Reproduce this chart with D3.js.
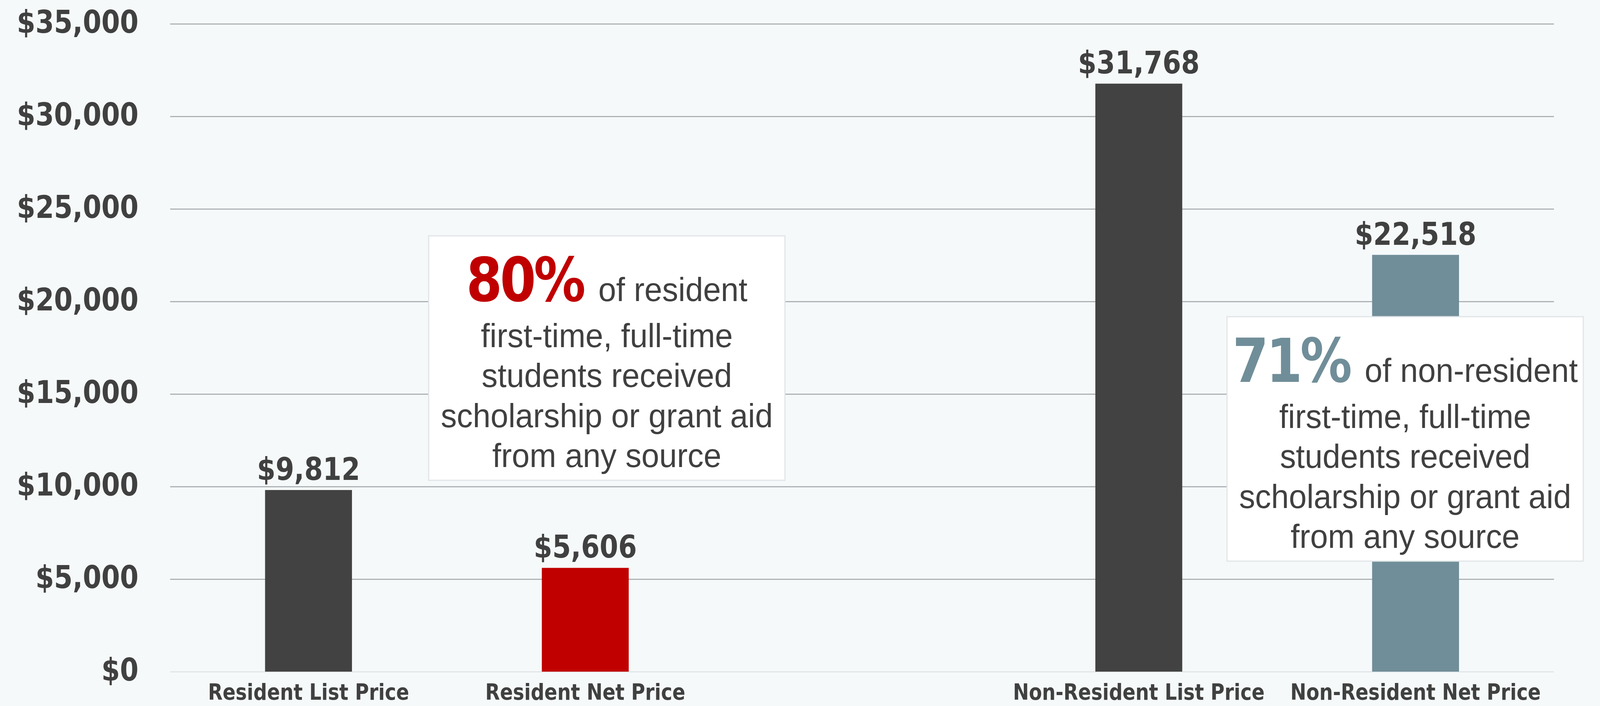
<!DOCTYPE html>
<html>
<head>
<meta charset="utf-8">
<script src="https://cdn.jsdelivr.net/npm/d3@7"></script>
<style>
  html, body { margin: 0; padding: 0; background: #f5f9fa; overflow: hidden; }
  svg { display: block; }
  .bold { font-family: 'DejaVu Sans Condensed', 'DejaVu Sans', sans-serif; font-stretch: condensed; font-weight: bold; fill: #404040; }
  .body { font-family: 'Liberation Sans', Arial, Helvetica, sans-serif; fill: #404040; }
</style>
</head>
<body>
<svg id="chart" viewBox="0 0 4307 1808" preserveAspectRatio="none" style="width:100vw;height:100vh"></svg>
<script>
// ---- data ----
const categories = ["Resident List Price", "Resident Net Price", "", "Non-Resident List Price", "Non-Resident Net Price"];
const barCategories = ["Resident List Price", "Resident Net Price", "Non-Resident List Price", "Non-Resident Net Price"];
const barValues = [9812, 5606, 31768, 22518];
const barColors = ["#424242", "#c00000", "#424242", "#708e99"];
const yTicks = [0, 5000, 10000, 15000, 20000, 25000, 30000, 35000];
const yTickLabels = ["$0", "$5,000", "$10,000", "$15,000", "$20,000", "$25,000", "$30,000", "$35,000"];
const calloutPercents = ["80%", "71%"];
const calloutFirstLines = ["of resident", "of non-resident"];
const calloutLines = ["first-time, full-time", "students received", "scholarship or grant aid", "from any source"];
const calloutColors = ["#c00000", "#708e99"];

// ---- layout ----
const W = 4307, H = 1808;
const plotLeft = 458, plotRight = 4183, plotTop = 61, plotBottom = 1720;
const svg = d3.select("#chart");
svg.append("rect").attr("width", W).attr("height", H).attr("fill", "#f5f9fa");

const x = d3.scaleBand().domain(categories).range([plotLeft, plotRight])
  .paddingInner(0.686).paddingOuter(0.343);
const y = d3.scaleLinear().domain([0, 35000]).range([plotBottom, plotTop]);

// y axis with gridlines
const yAxis = svg.append("g").attr("transform", `translate(${plotLeft},0)`)
  .call(d3.axisLeft(y).tickValues(yTicks)
    .tickFormat((d, i) => yTickLabels[i])
    .tickSize(-(plotRight - plotLeft)).tickPadding(85));
yAxis.select(".domain").remove();
yAxis.selectAll(".tick line")
  .attr("stroke", d => d === 0 ? "#e2e6e8" : "#b0b3b5")
  .attr("stroke-width", 3);
yAxis.selectAll(".tick text")
  .attr("class", "bold")
  .attr("dy", "0.28em")
  .style("font-size", "80px");

// bars
const bars = barCategories.map((c, i) => ({ c, v: barValues[i], color: barColors[i] }));
svg.append("g").selectAll("rect").data(bars).join("rect")
  .attr("x", d => x(d.c))
  .attr("width", x.bandwidth())
  .attr("y", d => y(d.v))
  .attr("height", d => y(0) - y(d.v))
  .attr("fill", d => d.color);

// value labels
svg.append("g").selectAll("text").data(bars).join("text")
  .attr("class", "bold")
  .attr("x", d => x(d.c) + x.bandwidth() / 2)
  .attr("y", d => y(d.v) - 26)
  .attr("text-anchor", "middle")
  .style("font-size", "80px")
  .text(d => "$" + d3.format(",")(d.v));

// category axis
const xAxis = svg.append("g").attr("transform", `translate(0,${plotBottom})`)
  .call(d3.axisBottom(x).tickSize(0));
xAxis.select(".domain").remove();
xAxis.selectAll(".tick text")
  .attr("class", "bold")
  .attr("y", 72).attr("dy", 0)
  .style("font-size", "57px");

// callouts
const boxes = [
  { left: 1154, top: 604 },
  { left: 3303, top: 811 }
];
const boxW = 959, boxH = 626;
boxes.forEach((b, i) => {
  const g = svg.append("g");
  g.append("rect")
    .attr("x", b.left).attr("y", b.top)
    .attr("width", boxW).attr("height", boxH)
    .attr("fill", "#ffffff").attr("stroke", "#e1e5e7").attr("stroke-width", 3);
  const cx = b.left + boxW / 2;
  const base = b.top + 167;
  const t1 = g.append("text").attr("x", cx).attr("y", base).attr("text-anchor", "middle");
  t1.append("tspan").attr("class", "bold").style("font-size", "155px")
    .style("fill", calloutColors[i]).attr("letter-spacing", "-6").text(calloutPercents[i]);
  t1.append("tspan").attr("class", "body").style("font-size", "86px")
    .attr("dx", 40).text(calloutFirstLines[i]);
  calloutLines.forEach((line, j) => {
    g.append("text").attr("class", "body")
      .attr("x", cx).attr("y", base + 118 + j * 102.5)
      .attr("text-anchor", "middle")
      .style("font-size", "86px")
      .text(line);
  });
});
</script>
</body>
</html>
